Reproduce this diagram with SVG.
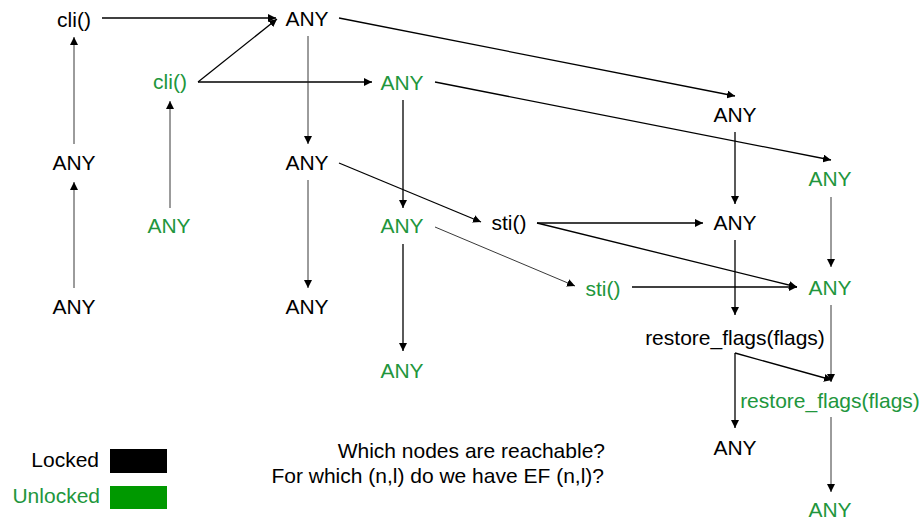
<svg xmlns="http://www.w3.org/2000/svg" width="921" height="519" viewBox="0 0 921 519">
<style>
text{font-family:"Liberation Sans",Arial,sans-serif;font-size:21px;text-anchor:middle}
.k{fill:#000}
.g{fill:#21963c}
.e{stroke:#000;stroke-width:1.3;fill:none;marker-end:url(#ah)}
.t{stroke:#222;stroke-width:0.9;fill:none;marker-end:url(#ah)}
</style>
<defs>
<marker id="ah" viewBox="0 0 10 10" refX="10" refY="5" markerWidth="8" markerHeight="8" markerUnits="userSpaceOnUse" orient="auto">
<path d="M0,0 L10,5 L0,10 z" fill="#000"/>
</marker>
</defs>
<rect width="921" height="519" fill="#fff"/>
<g id="connectors">
<line class="t" x1="74" y1="288" x2="74" y2="182"/>
<line class="t" x1="74" y1="144" x2="74" y2="37"/>
<line class="e" x1="102" y1="18" x2="276" y2="18"/>
<line class="t" x1="170" y1="208" x2="170" y2="101"/>
<line class="e" x1="198" y1="82" x2="277" y2="19"/>
<line class="e" x1="198" y1="82" x2="372" y2="82"/>
<line class="t" x1="308" y1="36" x2="308" y2="144"/>
<line class="e" x1="339" y1="18" x2="735" y2="96"/>
<line class="e" x1="435" y1="82" x2="831" y2="160"/>
<line class="e" x1="339" y1="163" x2="481" y2="222"/>
<line class="e" x1="403" y1="100" x2="403" y2="208"/>
<line class="t" x1="308" y1="180" x2="308" y2="288"/>
<line class="e" x1="403" y1="244" x2="403" y2="351"/>
<line class="t" x1="435" y1="227" x2="575" y2="286"/>
<line class="e" x1="735" y1="132" x2="735" y2="204"/>
<line class="e" x1="537" y1="223" x2="703" y2="223"/>
<line class="e" x1="537" y1="223" x2="797" y2="287"/>
<line class="t" x1="831" y1="197" x2="831" y2="267"/>
<line class="e" x1="632" y1="287" x2="797" y2="287"/>
<line class="e" x1="735" y1="240" x2="735" y2="315"/>
<line class="t" x1="831" y1="305" x2="831" y2="382"/>
<line class="e" x1="735" y1="353" x2="832" y2="380"/>
<line class="e" x1="735" y1="353" x2="735" y2="428"/>
<line class="t" x1="831" y1="417" x2="831" y2="492"/>
</g>
<g id="n_cli_k"><text class="k" x="74" y="27">cli()</text></g>
<g id="n_any_top"><text class="k" x="307" y="26">ANY</text></g>
<g id="n_cli_g"><text class="g" x="170" y="89">cli()</text></g>
<g id="n_any_g1"><text class="g" x="402" y="90">ANY</text></g>
<g id="n_any_k_l1"><text class="k" x="74" y="170">ANY</text></g>
<g id="n_any_k_m1"><text class="k" x="307" y="170">ANY</text></g>
<g id="n_any_g_l"><text class="g" x="169" y="233">ANY</text></g>
<g id="n_any_g2"><text class="g" x="402" y="233">ANY</text></g>
<g id="n_any_k_l2"><text class="k" x="74" y="314">ANY</text></g>
<g id="n_any_k_m2"><text class="k" x="307" y="314">ANY</text></g>
<g id="n_any_g3"><text class="g" x="402" y="378">ANY</text></g>
<g id="n_any_k_r1"><text class="k" x="735" y="122">ANY</text></g>
<g id="n_any_g_r1"><text class="g" x="830" y="186">ANY</text></g>
<g id="n_sti_k"><text class="k" x="509" y="230">sti()</text></g>
<g id="n_any_k_r2"><text class="k" x="735" y="230">ANY</text></g>
<g id="n_sti_g"><text class="g" x="603" y="296">sti()</text></g>
<g id="n_any_g_r2"><text class="g" x="830" y="295">ANY</text></g>
<g id="n_rf_k"><text class="k" x="735" y="345">restore_flags(flags)</text></g>
<g id="n_rf_g"><text class="g" x="830" y="408">restore_flags(flags)</text></g>
<g id="n_any_k_r3"><text class="k" x="735" y="455">ANY</text></g>
<g id="n_any_g_r3"><text class="g" x="830" y="517">ANY</text></g>
<g id="legend">
<text class="k" x="99" y="467" style="text-anchor:end">Locked</text>
<rect x="110" y="449" width="57" height="24" fill="#000"/>
<text class="g" x="100" y="503" style="text-anchor:end">Unlocked</text>
<rect x="110" y="486" width="57" height="23" fill="#009900"/>
</g>
<g id="question">
<text class="k" x="605" y="458" style="text-anchor:end">Which nodes are reachable?</text>
<text class="k" x="604" y="483" style="text-anchor:end">For which (n,l) do we have EF (n,l)?</text>
</g>
</svg>
